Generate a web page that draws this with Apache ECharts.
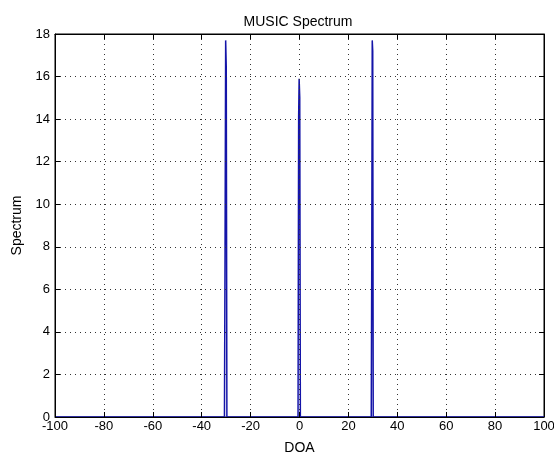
<!DOCTYPE html>
<html>
<head>
<meta charset="utf-8">
<script src="https://cdn.jsdelivr.net/npm/echarts@6/dist/echarts.min.js"></script>
<style>
  html, body { margin: 0; padding: 0; background: #fff; }
  #chart { width: 554px; height: 455px; }
</style>
</head>
<body>
<div id="chart"></div>
<script>
// DOA angles (deg) and spectrum values
const doa = [-100, -30.7, -30.45, -30.2, -29.95, -29.7, -0.6, -0.35, -0.15, 0.1, 0.35, 29.35, 29.55, 29.75, 29.95, 30.15, 100];
const spectrum = [0, 0, 7.8, 17.7, 16.4, 0, 0, 14.1, 15.9, 15.0, 0, 0, 7.3, 17.7, 17.2, 0, 0];
const xTicks = { min: -100, max: 100, interval: 20 };
const yTicks = { min: 0, max: 18, interval: 2 };

const font = 'Liberation Sans, Arial, sans-serif';
const chart = echarts.init(document.getElementById('chart'));

const axisLabel = { color: '#000', fontSize: 13, fontFamily: font };
const nameStyle = { color: '#000', fontSize: 14, fontFamily: font };
const splitLine = { show: true, lineStyle: { color: '#333', type: [1, 4], width: 1 } };
const tick = { show: true, inside: true, length: 5, lineStyle: { color: '#000' } };
const line = { show: true, onZero: false, lineStyle: { color: '#000' } };

chart.setOption({
  backgroundColor: '#fff',
  animation: false,
  title: {
    text: 'MUSIC Spectrum',
    left: 293,
    top: 10,
    textAlign: 'center',
    textStyle: { color: '#000', fontSize: 14, fontWeight: 'normal', fontFamily: font }
  },
  grid: {
    left: 55, right: 10, top: 34, bottom: 38,
    outerBoundsMode: 'none',
    show: true, borderColor: '#000', borderWidth: 1
  },
  xAxis: [
    {
      type: 'value', ...xTicks, z: 10,
      name: 'DOA', nameLocation: 'middle', nameGap: 24,
      nameTextStyle: nameStyle,
      axisLine: line,
      axisTick: tick,
      axisLabel: { ...axisLabel, margin: 3, showMinLabel: true, showMaxLabel: true },
      splitLine
    },
    {
      type: 'value', ...xTicks, position: 'top', z: 10,
      axisLine: line,
      axisTick: tick,
      axisLabel: { show: false },
      splitLine: { show: false }
    }
  ],
  yAxis: [
    {
      type: 'value', ...yTicks, z: 10,
      name: 'Spectrum', nameLocation: 'middle', nameGap: 30,
      nameTextStyle: nameStyle,
      axisLine: line,
      axisTick: tick,
      axisLabel: { ...axisLabel, margin: 5 },
      splitLine
    },
    {
      type: 'value', ...yTicks, position: 'right', z: 10,
      axisLine: line,
      axisTick: tick,
      axisLabel: { show: false },
      splitLine: { show: false }
    }
  ],
  series: [
    {
      type: 'line',
      data: doa.map((d, i) => [d, spectrum[i]]),
      showSymbol: false,
      lineStyle: { color: '#1414a8', width: 1.5 },
      z: 2
    }
  ]
});
</script>
</body>
</html>
